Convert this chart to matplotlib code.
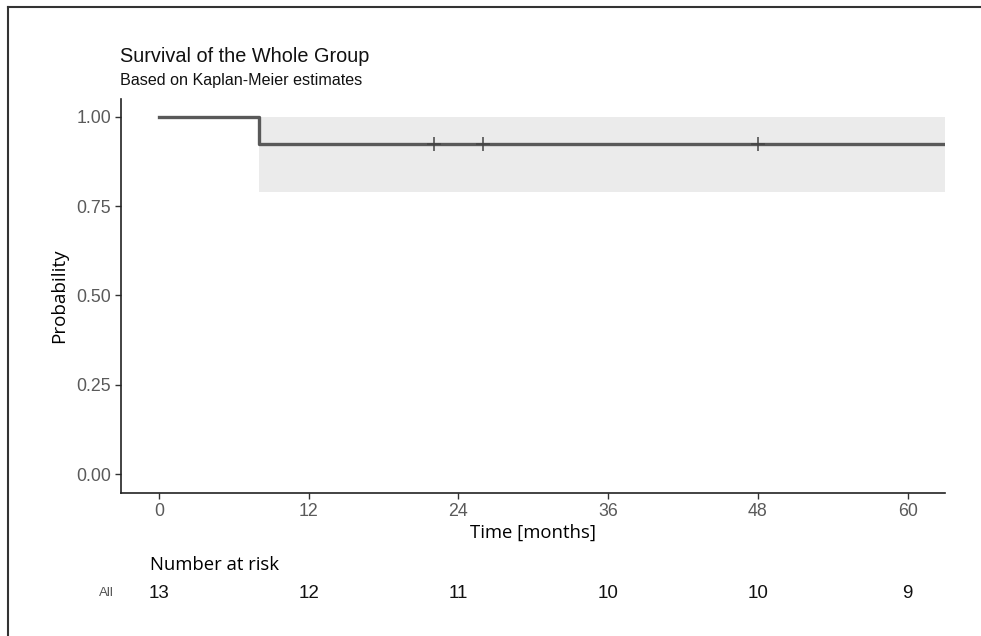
import matplotlib
matplotlib.use("Agg")
import matplotlib.pyplot as plt
from matplotlib.lines import Line2D
import matplotlib.transforms as mtransforms

# ---- data ----
step_times = [0, 8, 63]
step_surv = [1.0, 0.923, 0.923]
ci_times = [8, 63]
ci_lower = [0.79, 0.79]
ci_upper = [1.0, 1.0]
censor_times = [22, 26, 48]
censor_surv = [0.923, 0.923, 0.923]
x_ticks = [0, 12, 24, 36, 48, 60]
y_ticks = [0.0, 0.25, 0.5, 0.75, 1.0]
y_ticklabels = ["0.00", "0.25", "0.50", "0.75", "1.00"]
risk_times = [0, 12, 24, 36, 48, 60]
risk_counts = [13, 12, 11, 10, 10, 9]
group_label = "All"

W, H = 981, 636
fig = plt.figure(figsize=(W / 100, H / 100), dpi=100)
fig.patch.set_facecolor("white")

sans = "Liberation Sans"
myriad = "Open Sans"

ax = fig.add_axes([121 / W, 1 - 493 / H, (945 - 121) / W, (493 - 99) / H])
ax.fill_between(ci_times, ci_lower, ci_upper, step="post", color="#EBEBEB", linewidth=0)
ax.step(step_times, step_surv, where="post", color="#595959", linewidth=2.4)
ax.plot(censor_times, censor_surv, linestyle="none", marker="+", markersize=10,
        markeredgewidth=1.1, color="#444444")

ax.set_xlim(-3.05, 63)
ax.set_ylim(-0.053, 1.05)
ax.set_xticks(x_ticks)
ax.set_yticks(y_ticks)
ax.set_yticklabels(y_ticklabels)
for s in ["top", "right"]:
    ax.spines[s].set_visible(False)
for s in ["left", "bottom"]:
    ax.spines[s].set_color("#222222")
    ax.spines[s].set_linewidth(1.2)
ax.tick_params(axis="both", direction="out", length=4, width=1, color="#333333",
               labelcolor="#5a5a5a", labelsize=12.8, pad=3)
for lab in ax.get_xticklabels() + ax.get_yticklabels():
    lab.set_fontfamily(sans)

ax.set_ylabel("Probability", fontsize=13.6, family=myriad, color="black", labelpad=6)
ax.set_xlabel("Time [months]", fontsize=13.3, family=myriad, color="black", labelpad=3)

# titles
fig.text(120 / W, 1 - 57 / H, "Survival of the Whole Group", fontsize=14.3,
         family=sans, color="#111111", ha="left", va="center")
fig.text(120 / W, 1 - 81 / H, "Based on Kaplan-Meier estimates", fontsize=11.6,
         family=sans, color="#111111", ha="left", va="center")

# number at risk table
fig.text(150 / W, 1 - 565 / H, "Number at risk", fontsize=13.3, family=myriad,
         color="black", ha="left", va="center")
trans = mtransforms.blended_transform_factory(ax.transData, fig.transFigure)
for t, n in zip(risk_times, risk_counts):
    ax.text(t, 1 - 594 / H, str(n), transform=trans, fontsize=13.5, family=sans,
            color="#111111", ha="center", va="center", clip_on=False)
fig.text(106 / W, 1 - 593 / H, group_label, fontsize=9.5, family=sans,
         color="#555555", ha="center", va="center")

# outer frame (top and left only)
fig.add_artist(Line2D([8 / W, 1], [1 - 7 / H, 1 - 7 / H], transform=fig.transFigure,
                      color="#333333", linewidth=1.5))
fig.add_artist(Line2D([8 / W, 8 / W], [0, 1 - 7 / H], transform=fig.transFigure,
                      color="#333333", linewidth=1.5))

fig.savefig("out.png", dpi=100, facecolor="white")
